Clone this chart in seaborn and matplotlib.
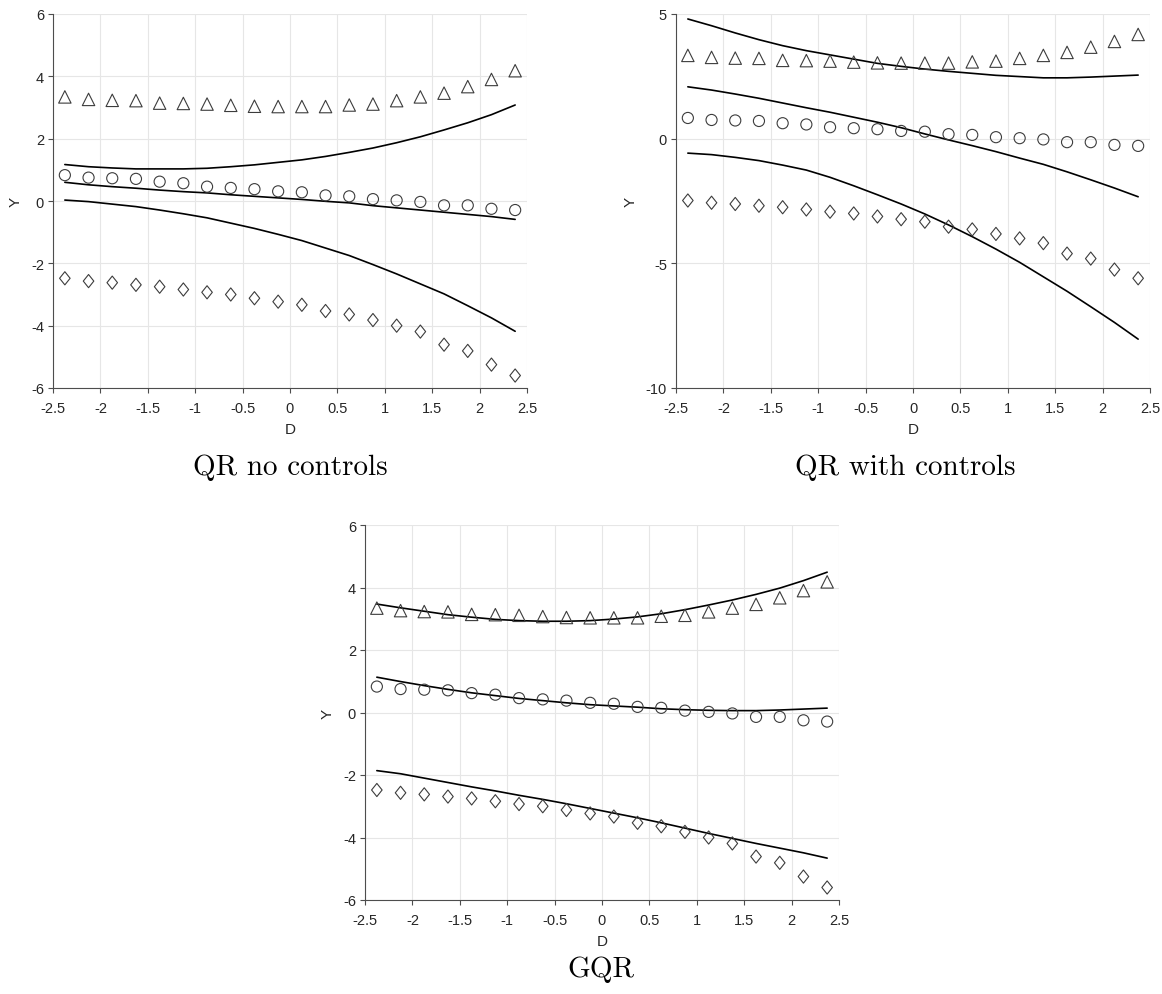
import numpy as np
import pandas as pd
import matplotlib
matplotlib.use("Agg")
import matplotlib.pyplot as plt
from matplotlib.path import Path
import seaborn as sns

# ---------------- data ----------------
d_points = [-2.375, -2.125, -1.875, -1.625, -1.375, -1.125, -0.875, -0.625, -0.375, -0.125,
            0.125, 0.375, 0.625, 0.875, 1.125, 1.375, 1.625, 1.875, 2.125, 2.375]

# empirical quantile points (same in all panels)
q_high = [3.34, 3.26, 3.23, 3.22, 3.14, 3.13, 3.11, 3.07, 3.04, 3.03,
          3.03, 3.03, 3.08, 3.11, 3.22, 3.34, 3.46, 3.67, 3.90, 4.18]
q_mid = [0.83, 0.75, 0.73, 0.71, 0.62, 0.57, 0.46, 0.42, 0.38, 0.31,
         0.28, 0.18, 0.15, 0.06, 0.02, -0.03, -0.14, -0.14, -0.25, -0.29]
q_low = [-2.48, -2.57, -2.62, -2.69, -2.75, -2.84, -2.93, -3.00, -3.12, -3.23,
         -3.33, -3.53, -3.64, -3.82, -4.00, -4.19, -4.61, -4.81, -5.25, -5.60]

# QR no controls (fitted curves)
qr_high = [1.17, 1.10, 1.06, 1.03, 1.03, 1.03, 1.05, 1.10, 1.16, 1.24,
           1.32, 1.43, 1.56, 1.70, 1.87, 2.06, 2.28, 2.51, 2.77, 3.08]
qr_mid = [0.60, 0.52, 0.46, 0.41, 0.35, 0.30, 0.26, 0.20, 0.15, 0.10,
          0.05, -0.01, -0.06, -0.15, -0.22, -0.29, -0.36, -0.43, -0.50, -0.59]
qr_low = [0.03, -0.02, -0.10, -0.18, -0.29, -0.41, -0.54, -0.71, -0.88, -1.07,
          -1.27, -1.51, -1.75, -2.04, -2.34, -2.66, -2.98, -3.36, -3.75, -4.18]

# QR with controls
qrc_high = [4.80, 4.53, 4.24, 3.97, 3.73, 3.53, 3.36, 3.19, 3.02, 2.90,
            2.79, 2.70, 2.62, 2.54, 2.49, 2.44, 2.44, 2.47, 2.51, 2.55]
qrc_mid = [2.08, 1.95, 1.79, 1.62, 1.43, 1.24, 1.06, 0.86, 0.66, 0.44,
           0.19, -0.05, -0.28, -0.52, -0.78, -1.03, -1.33, -1.65, -1.98, -2.33]
qrc_low = [-0.58, -0.64, -0.75, -0.88, -1.06, -1.26, -1.55, -1.89, -2.25, -2.62,
           -3.02, -3.46, -3.93, -4.43, -4.96, -5.54, -6.12, -6.74, -7.37, -8.04]

# GQR
gqr_high = [3.47, 3.35, 3.24, 3.13, 3.05, 2.98, 2.94, 2.92, 2.92, 2.94,
            2.99, 3.06, 3.16, 3.29, 3.44, 3.60, 3.78, 3.98, 4.22, 4.49]
gqr_mid = [1.13, 0.99, 0.86, 0.74, 0.63, 0.54, 0.45, 0.38, 0.31, 0.25,
           0.21, 0.17, 0.12, 0.09, 0.07, 0.06, 0.06, 0.08, 0.11, 0.14]
gqr_low = [-1.86, -1.96, -2.10, -2.24, -2.38, -2.51, -2.65, -2.78, -2.92, -3.07,
           -3.22, -3.37, -3.53, -3.70, -3.87, -4.03, -4.19, -4.34, -4.49, -4.66]

x_ticks = [-2.5, -2, -1.5, -1, -0.5, 0, 0.5, 1, 1.5, 2, 2.5]
x_ticklabels = ["-2.5", "-2", "-1.5", "-1", "-0.5", "0", "0.5", "1", "1.5", "2", "2.5"]
y_ticks_a = [-6, -4, -2, 0, 2, 4, 6]
y_ticklabels_a = ["-6", "-4", "-2", "0", "2", "4", "6"]
y_ticks_b = [-10, -5, 0, 5]
y_ticklabels_b = ["-10", "-5", "0", "5"]

captions = ["QR no controls", "QR with controls", "GQR"]

# ---------------- style ----------------
sns.set_theme(style="whitegrid")
plt.rcParams["font.family"] = ["Liberation Sans", "DejaVu Sans"]

fig = plt.figure(figsize=(11.62, 9.95), dpi=100)

W = 474 / 1162
H = 374 / 995
ax1 = fig.add_axes([53 / 1162, 1 - 389 / 995, W, H])
ax2 = fig.add_axes([676 / 1162, 1 - 389 / 995, W, H])
ax3 = fig.add_axes([365 / 1162, 1 - 901 / 995, W, 375 / 995])

diamond = Path([(0, 1), (0.8, 0), (0, -1), (-0.8, 0), (0, 1)],
               [Path.MOVETO, Path.LINETO, Path.LINETO, Path.LINETO, Path.CLOSEPOLY])

TXT = "#262626"
EDGE = "#3c3c3c"


def draw(ax, lines, yticks, yticklabels, ylim):
    for vals in lines:
        sns.lineplot(x=d_points, y=vals, color="black", linewidth=1.2, ax=ax,
                     estimator=None, sort=False)
    sns.scatterplot(x=d_points, y=q_high, marker="^", s=80, facecolor="none",
                    edgecolor=EDGE, linewidth=0.8, ax=ax, zorder=3)
    sns.scatterplot(x=d_points, y=q_mid, marker="o", s=64, facecolor="none",
                    edgecolor=EDGE, linewidth=0.8, ax=ax, zorder=3)
    sns.scatterplot(x=d_points, y=q_low, marker=diamond, s=90, facecolor="none",
                    edgecolor=EDGE, linewidth=0.8, ax=ax, zorder=3)
    ax.set_xlim(-2.5, 2.5)
    ax.set_ylim(*ylim)
    ax.set_xticks(x_ticks)
    ax.set_xticklabels(x_ticklabels)
    ax.set_yticks(yticks)
    ax.set_yticklabels(yticklabels)
    ax.grid(True, color="#e6e6e6", linewidth=0.8)
    ax.set_axisbelow(True)
    for s in ["top", "right"]:
        ax.spines[s].set_visible(False)
    for s in ["left", "bottom"]:
        ax.spines[s].set_visible(True)
        ax.spines[s].set_color("#4d4d4d")
        ax.spines[s].set_linewidth(0.8)
    ax.tick_params(axis="both", direction="out", length=3.5, width=0.8,
                   color="#4d4d4d", labelsize=10.5, labelcolor=TXT,
                   bottom=True, left=True)
    ax.tick_params(axis="x", pad=6)
    ax.tick_params(axis="y", pad=3)
    ax.set_xlabel("D", fontsize=11, color=TXT, labelpad=5)
    ax.set_ylabel("Y", fontsize=11, color=TXT, labelpad=6)
    ax.set_facecolor("white")


draw(ax1, [qr_high, qr_mid, qr_low], y_ticks_a, y_ticklabels_a, (-6, 6))
draw(ax2, [qrc_high, qrc_mid, qrc_low], y_ticks_b, y_ticklabels_b, (-10, 5))
draw(ax3, [gqr_high, gqr_mid, gqr_low], y_ticks_a, y_ticklabels_a, (-6, 6))

cap_kw = dict(fontsize=21, family="cmr10", color="black", ha="center", va="center")
fig.text(290 / 1162, 1 - 468 / 995, captions[0], **cap_kw)
fig.text(905 / 1162, 1 - 468 / 995, captions[1], **cap_kw)
fig.text(601 / 1162, 1 - 970 / 995, captions[2], **cap_kw)

fig.savefig("out.png", dpi=100, facecolor="white")
